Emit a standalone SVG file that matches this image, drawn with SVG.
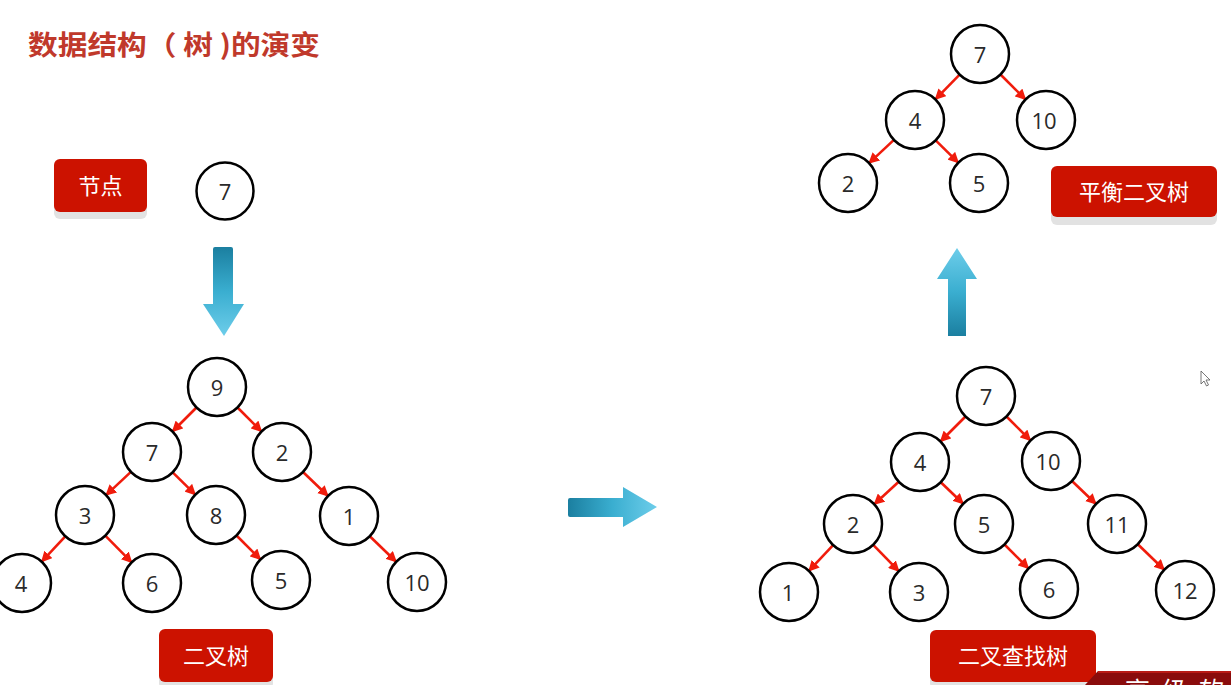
<svg xmlns="http://www.w3.org/2000/svg" width="1231" height="685" viewBox="0 0 1231 685">
<style>
.node circle{fill:#fff;stroke:#000;stroke-width:2.5}
.node text{font-family:"Open Sans","Noto Sans","Liberation Sans",sans-serif;font-size:22px;fill:#2a2a2a;text-anchor:middle;dominant-baseline:central}
.edge{stroke:#f01c0c;stroke-width:2.6;fill:none;marker-end:url(#ah)}
.lbl rect.bg{fill:#cc1200}
.lbl rect.sh{fill:#e2e2e2}
.lbl text{font-family:"Noto Sans CJK SC","Noto Sans",sans-serif;font-size:22px;fill:#fff;text-anchor:middle;dominant-baseline:central}
.title{font-family:"Noto Sans CJK SC",sans-serif;font-size:27px;font-weight:bold;fill:#c0392b}
</style>
<defs>
<marker id="ah" viewBox="0 0 10 10" refX="9" refY="5" markerWidth="11" markerHeight="11" markerUnits="userSpaceOnUse" orient="auto">
<path d="M0,0 L10,5 L0,10 z" fill="#f01c0c"/>
</marker>
<linearGradient id="gDown" x1="0" y1="0" x2="0" y2="1">
<stop offset="0" stop-color="#1b7fa0"/><stop offset="0.5" stop-color="#3aaed0"/><stop offset="1" stop-color="#6dcdea"/>
</linearGradient>
<linearGradient id="gUp" x1="0" y1="1" x2="0" y2="0">
<stop offset="0" stop-color="#1b7fa0"/><stop offset="0.5" stop-color="#3aaed0"/><stop offset="1" stop-color="#6dcdea"/>
</linearGradient>
<linearGradient id="gRight" x1="0" y1="0" x2="1" y2="0">
<stop offset="0" stop-color="#1b7fa0"/><stop offset="0.5" stop-color="#3aaed0"/><stop offset="1" stop-color="#6dcdea"/>
</linearGradient>
</defs>
<rect width="1231" height="685" fill="#fff"/>
<text class="title" x="28" y="55" textLength="292" lengthAdjust="spacingAndGlyphs">数据结构（ 树 )的演变</text>

<!-- big arrows -->
<path d="M213,249 Q213,247 215,247 L231,247 Q233,247 233,249 L233,304 L244,304 L224,336 L203,304 L213,304 Z" fill="url(#gDown)"/>
<path d="M948,336 L966,336 L966,279 L977,279 L957,248 L937,279 L948,279 Z" fill="url(#gUp)"/>
<path d="M568,500 Q568,498 570,498 L623,498 L623,487 L657,507 L623,527 L623,517 L570,517 Q568,517 568,515 Z" fill="url(#gRight)"/>

<!-- labels -->
<g id="label-node" class="lbl"><rect class="sh" x="54" y="166" width="93" height="53" rx="6"/><rect class="bg" x="54" y="159" width="93" height="53" rx="6"/><text x="100.5" y="184">节点</text></g>
<g id="label-bt" class="lbl"><rect class="sh" x="159" y="636" width="114" height="53" rx="6"/><rect class="bg" x="159" y="629" width="114" height="53" rx="6"/><text x="216" y="654">二叉树</text></g>
<g id="label-bst" class="lbl"><rect class="sh" x="930" y="637" width="166" height="52" rx="6"/><rect class="bg" x="930" y="630" width="166" height="52" rx="6"/><text x="1013" y="654">二叉查找树</text></g>
<g id="label-avl" class="lbl"><rect class="sh" x="1051" y="173" width="166" height="52" rx="6"/><rect class="bg" x="1051" y="166" width="166" height="51" rx="6"/><text x="1134" y="190">平衡二叉树</text></g>

<!-- connectors -->
<g id="connectors">
<line class="edge" x1="196.5" y1="407.5" x2="172.5" y2="431.5"/>
<line class="edge" x1="237.5" y1="407.5" x2="261.5" y2="431.5"/>
<line class="edge" x1="130.9" y1="471.9" x2="106.1" y2="495.1"/>
<line class="edge" x1="172.7" y1="472.3" x2="195.3" y2="494.7"/>
<line class="edge" x1="303" y1="472" x2="328" y2="496"/>
<line class="edge" x1="65.3" y1="536.3" x2="41.7" y2="561.7"/>
<line class="edge" x1="105.3" y1="535.6" x2="131.7" y2="562.4"/>
<line class="edge" x1="236.5" y1="535.5" x2="260.5" y2="559.5"/>
<line class="edge" x1="369.8" y1="536.2" x2="396.2" y2="561.8"/>

<line class="edge" x1="965.5" y1="416.5" x2="940.5" y2="441.5"/>
<line class="edge" x1="1006.5" y1="416.5" x2="1030.5" y2="440.5"/>
<line class="edge" x1="898.7" y1="481.7" x2="874.3" y2="504.3"/>
<line class="edge" x1="940.8" y1="482.2" x2="963.2" y2="503.8"/>
<line class="edge" x1="1072" y1="481" x2="1096" y2="504"/>
<line class="edge" x1="833.1" y1="545.1" x2="808.9" y2="570.9"/>
<line class="edge" x1="873.2" y1="544.8" x2="898.8" y2="571.2"/>
<line class="edge" x1="1004.5" y1="544.5" x2="1028.5" y2="568.5"/>
<line class="edge" x1="1137.8" y1="544.2" x2="1164.2" y2="569.8"/>

<line class="edge" x1="959.6" y1="74.7" x2="935.4" y2="99.3"/>
<line class="edge" x1="1000.5" y1="74.5" x2="1025.5" y2="99.5"/>
<line class="edge" x1="893.9" y1="139.9" x2="869.1" y2="163.1"/>
<line class="edge" x1="935.7" y1="140.3" x2="958.3" y2="162.7"/>
</g>

<!-- single node -->
<g id="n-single" class="node"><circle cx="225" cy="191" r="28.5"/><text x="225" y="191">7</text></g>

<!-- binary tree -->
<g id="bt-9" class="node"><circle cx="217" cy="387" r="29"/><text x="217" y="387">9</text></g>
<g id="bt-7" class="node"><circle cx="152" cy="452" r="29"/><text x="152" y="452">7</text></g>
<g id="bt-2" class="node"><circle cx="282" cy="452" r="29"/><text x="282" y="452">2</text></g>
<g id="bt-3" class="node"><circle cx="85" cy="515" r="29"/><text x="85" y="515">3</text></g>
<g id="bt-8" class="node"><circle cx="216" cy="515" r="29"/><text x="216" y="515">8</text></g>
<g id="bt-1" class="node"><circle cx="349" cy="516" r="29"/><text x="349" y="516">1</text></g>
<g id="bt-4" class="node"><circle cx="22" cy="583" r="29"/><text x="21" y="583">4</text></g>
<g id="bt-6" class="node"><circle cx="152" cy="583" r="29"/><text x="152" y="583">6</text></g>
<g id="bt-5" class="node"><circle cx="281" cy="580" r="29"/><text x="281" y="580">5</text></g>
<g id="bt-10" class="node"><circle cx="417" cy="582" r="29"/><text x="417" y="582">10</text></g>

<!-- binary search tree -->
<g id="bst-7" class="node"><circle cx="986" cy="396" r="29"/><text x="986" y="396">7</text></g>
<g id="bst-4" class="node"><circle cx="920" cy="462" r="29"/><text x="920" y="462">4</text></g>
<g id="bst-10" class="node"><circle cx="1051" cy="461" r="29"/><text x="1048" y="461">10</text></g>
<g id="bst-2" class="node"><circle cx="853" cy="524" r="29"/><text x="853" y="524">2</text></g>
<g id="bst-5" class="node"><circle cx="984" cy="524" r="29"/><text x="984" y="524">5</text></g>
<g id="bst-11" class="node"><circle cx="1117" cy="524" r="29"/><text x="1117" y="524">11</text></g>
<g id="bst-1" class="node"><circle cx="789" cy="592" r="29"/><text x="788" y="592">1</text></g>
<g id="bst-3" class="node"><circle cx="919" cy="592" r="29"/><text x="919" y="592">3</text></g>
<g id="bst-6" class="node"><circle cx="1049" cy="589" r="29"/><text x="1049" y="589">6</text></g>
<g id="bst-12" class="node"><circle cx="1185" cy="590" r="29"/><text x="1185" y="590">12</text></g>

<!-- balanced tree -->
<g id="avl-7" class="node"><circle cx="980" cy="54" r="29"/><text x="980" y="54">7</text></g>
<g id="avl-4" class="node"><circle cx="915" cy="120" r="29"/><text x="915" y="120">4</text></g>
<g id="avl-10" class="node"><circle cx="1046" cy="120" r="29"/><text x="1044" y="120">10</text></g>
<g id="avl-2" class="node"><circle cx="848" cy="183" r="29"/><text x="848" y="183">2</text></g>
<g id="avl-5" class="node"><circle cx="979" cy="183" r="29"/><text x="979" y="183">5</text></g>

<!-- cursor -->
<path d="M1201,371 L1201,384 L1204,381 L1206.5,386 L1208.5,385 L1206,380 L1210,380 Z" fill="#fff" stroke="#555" stroke-width="0.8"/>

<!-- watermark band (cut off at the frame edge, as in the reference) -->
<path d="M1085,685 L1098,671 L1231,671 L1231,685 Z" fill="#8a0c0c"/>
<line x1="1098" y1="672" x2="1231" y2="672" stroke="#c8201a" stroke-width="1.5"/>
<text x="1125" y="700" font-family="Noto Sans CJK SC,sans-serif" font-size="25" fill="#fff" letter-spacing="12">高级软件</text>
</svg>
